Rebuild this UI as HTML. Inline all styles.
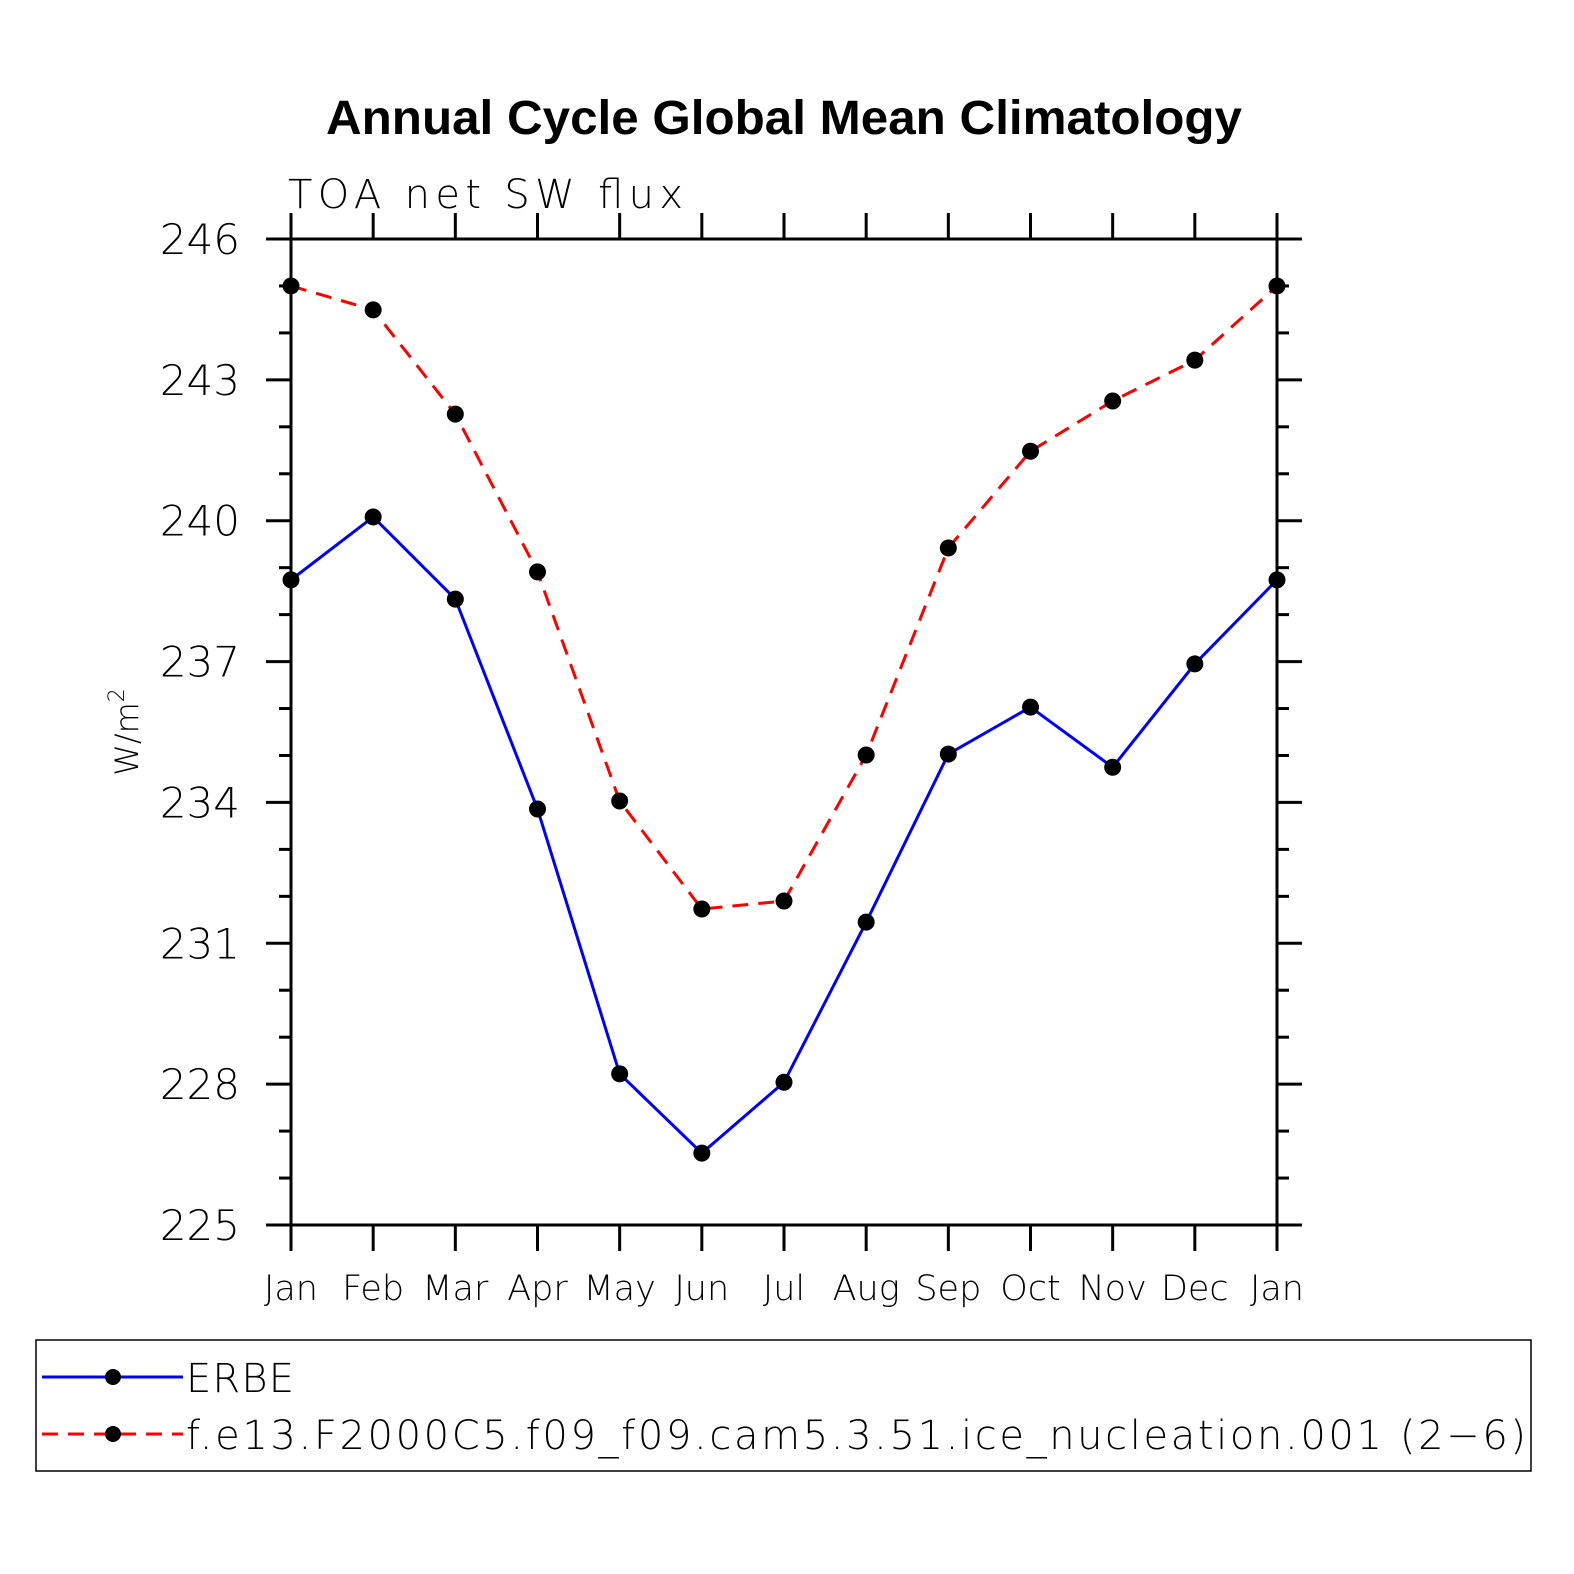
<!DOCTYPE html>
<html><head><meta charset="utf-8"><style>
html,body{margin:0;background:#fff;overflow:hidden;width:1574px;height:1574px}
svg{display:block}
svg text{font-family:"DejaVu Sans","Liberation Sans",sans-serif;font-weight:200}
</style></head><body>
<svg id="chart" width="1574" height="1574" xmlns="http://www.w3.org/2000/svg">
<text x="326" y="134" style="font-family:'Liberation Sans',sans-serif;font-weight:bold" font-size="48" textLength="916" lengthAdjust="spacingAndGlyphs">Annual Cycle Global Mean Climatology</text>
<text x="288" y="208" font-size="40" textLength="395">TOA net SW flux</text>
<text transform="translate(138,732) rotate(-90)" text-anchor="middle" font-size="32">W/m<tspan dy="-14" font-size="22">2</tspan></text>
<g id="axes"></g>
<g id="series"></g>
<rect x="36" y="1340" width="1495" height="131" fill="none" stroke="#000" stroke-width="1.5"/>
<line x1="42" y1="1377" x2="183" y2="1377" stroke="#00f" stroke-width="3"/>
<circle cx="113" cy="1377" r="8"/>
<text x="186" y="1392" font-size="40" textLength="108">ERBE</text>
<line x1="42" y1="1434" x2="183" y2="1434" stroke="#f00" stroke-width="3" stroke-dasharray="16 10"/>
<circle cx="113" cy="1434" r="8"/>
<text x="186" y="1449" font-size="40" textLength="1340">f.e13.F2000C5.f09_f09.cam5.3.51.ice_nucleation.001 (2−6)</text>
</svg>
<script>
const months=["Jan","Feb","Mar","Apr","May","Jun","Jul","Aug","Sep","Oct","Nov","Dec","Jan"];
const erbe=[238.74,240.08,238.33,233.86,228.22,226.53,228.04,231.45,235.03,236.03,234.75,236.95,238.74];
const model=[245.0,244.49,242.27,238.91,234.03,231.73,231.9,235.01,239.42,241.48,242.55,243.42,245.0];
const yTicks=[225,228,231,234,237,240,243,246];
const X0=291,X1=1277,Y0=1225,Y1=239,ymin=225,ymax=246;
const xs=i=>X0+(X1-X0)*i/(months.length-1);
const ys=v=>Y0-(v-ymin)/(ymax-ymin)*(Y0-Y1);
const NS="http://www.w3.org/2000/svg";
const ax=document.getElementById('axes'),sr=document.getElementById('series');
function mk(tag,attrs,parent){const e=document.createElementNS(NS,tag);for(const k in attrs)e.setAttribute(k,attrs[k]);parent.appendChild(e);return e;}
const frame=mk('rect',{x:X0,y:Y1,width:X1-X0,height:Y0-Y1,fill:'none',stroke:'#000','stroke-width':3},ax);


for(let v=ymin;v<=ymax;v++){
  const major=yTicks.includes(v);const L=major?25:12;const y=ys(v);
  mk('line',{x1:X0-L,y1:y,x2:X0,y2:y,stroke:'#000','stroke-width':3},ax);
  mk('line',{x1:X1,y1:y,x2:X1+L,y2:y,stroke:'#000','stroke-width':3},ax);
}
yTicks.forEach(v=>{
  const t=mk('text',{x:240,y:ys(v)+15,'text-anchor':'end','font-size':42},ax);
  
  
  t.textContent=v;
});
months.forEach((m,i)=>{
  const x=xs(i);
  mk('line',{x1:x,y1:Y1-26,x2:x,y2:Y1,stroke:'#000','stroke-width':3},ax);
  mk('line',{x1:x,y1:Y0,x2:x,y2:Y0+26,stroke:'#000','stroke-width':3},ax);
  const t=mk('text',{x:x,y:1300,'text-anchor':'middle','font-size':35},ax);
  
  
  t.textContent=m;
});
function series(vals,color,dash,name){
  const p=mk('polyline',{points:vals.map((v,i)=>xs(i)+','+ys(v)).join(' '),fill:'none',stroke:color,'stroke-width':3,'stroke-dasharray':dash},sr);
  
  
  vals.forEach((v,i)=>{
    const c=mk('circle',{cx:xs(i),cy:ys(v),r:8.5,fill:'#000'},sr);
    
    
  });
}
series(erbe,'#00f','none','erbe');
series(model,'#f00','16 10','model');
</script>
</body></html>
